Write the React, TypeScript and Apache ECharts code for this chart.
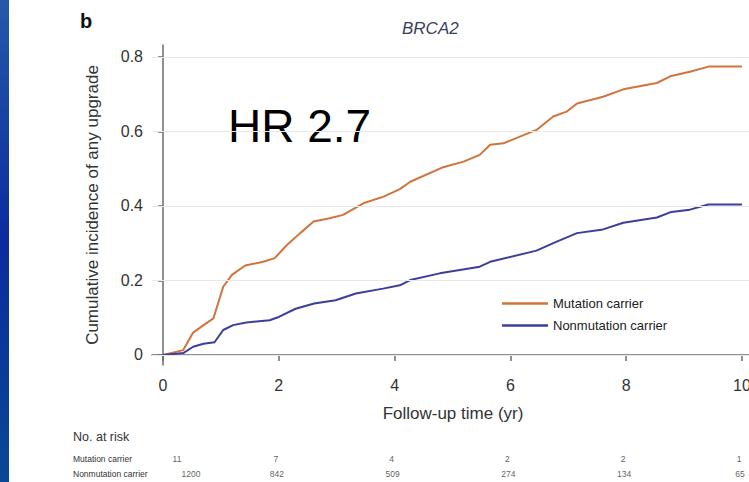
import React, { useEffect, useRef } from "react";
import * as echarts from "echarts";

const seriesNames = ["Mutation carrier", "Nonmutation carrier"];

const mutationTime = [0, 0.35, 0.52, 0.7, 0.87, 1.04, 1.19, 1.42, 1.73, 1.93, 2.14, 2.37, 2.6, 2.88, 3.11, 3.46, 3.81, 4.09, 4.27, 4.84, 5.19, 5.47, 5.65, 5.88, 6.45, 6.74, 6.97, 7.15, 7.6, 7.95, 8.53, 8.76, 9.1, 9.42, 10];
const mutationValue = [0, 0.013, 0.06, 0.08, 0.098, 0.183, 0.215, 0.24, 0.25, 0.26, 0.295, 0.327, 0.358, 0.367, 0.376, 0.407, 0.425, 0.445, 0.465, 0.504, 0.519, 0.537, 0.564, 0.568, 0.604, 0.64, 0.653, 0.675, 0.693, 0.713, 0.73, 0.748, 0.76, 0.774, 0.774];

const nonmutationTime = [0, 0.35, 0.52, 0.7, 0.89, 1.04, 1.21, 1.44, 1.84, 2.0, 2.29, 2.61, 2.98, 3.33, 3.8, 4.09, 4.27, 4.78, 5.47, 5.65, 6.45, 6.8, 7.15, 7.6, 7.95, 8.53, 8.78, 9.1, 9.42, 10];
const nonmutationValue = [0, 0.005, 0.022, 0.03, 0.034, 0.067, 0.08, 0.087, 0.093, 0.102, 0.124, 0.138, 0.147, 0.165, 0.178, 0.187, 0.201, 0.219, 0.237, 0.25, 0.28, 0.304, 0.327, 0.337, 0.355, 0.369, 0.384, 0.39, 0.404, 0.404];

const xTicks = [0, 2, 4, 6, 8, 10];
const yTicks = [0, 0.2, 0.4, 0.6, 0.8];

const riskTimes = [0, 2, 4, 6, 8, 10];
const riskMutation = [11, 7, 4, 2, 2, 1];
const riskNonmutation = [1200, 842, 509, 274, 134, 65];

const FONT = "'Liberation Sans', Arial, Helvetica, sans-serif";

export default function App() {
  const ref = useRef<HTMLDivElement>(null);
  useEffect(() => {
    document.body.style.margin = "0";
    const chart = echarts.init(ref.current!, null, { renderer: "svg" });
    const xMin = -0.19;
    const xMax = 10.207;
    const riskData: any[] = [];
    riskTimes.forEach((t, i) => {
      riskData.push({
        value: [t, "Mutation carrier", riskMutation[i]],
        label: { offset: [i === 0 ? 14 : -3, 0] },
      });
      riskData.push({
        value: [t, "Nonmutation carrier", riskNonmutation[i]],
        label: { offset: [i === 0 ? 28 : -2, 0] },
      });
    });
    chart.setOption({
      animation: false,
      backgroundColor: "#ffffff",
      textStyle: { fontFamily: FONT },
      title: {
        text: "BRCA2",
        left: 397,
        top: 15,
        textStyle: { fontSize: 17, fontStyle: "italic", fontWeight: "normal", color: "#3b3e5e", fontFamily: FONT },
      },
      legend: {
        orient: "vertical",
        left: 497,
        top: 292,
        icon: "rect",
        itemWidth: 46,
        itemHeight: 2.5,
        itemGap: 9,
        data: seriesNames,
        textStyle: { fontSize: 13, color: "#222", fontFamily: FONT },
      },
      grid: [
        { left: 152, top: 45, width: 602, height: 320, outerBoundsMode: "none" },
        { left: 152, top: 451, width: 602, height: 31, outerBoundsMode: "none" },
      ],
      xAxis: [
        {
          type: "value",
          gridIndex: 0,
          min: xMin,
          max: xMax,
          name: "Follow-up time (yr)",
          nameLocation: "middle",
          nameGap: 40,
          nameTextStyle: { fontSize: 17, color: "#333", fontFamily: FONT },
          axisLine: { show: true, lineStyle: { color: "#6b6b6b", width: 1.5 } },
          axisTick: { show: true, length: 6, customValues: xTicks, lineStyle: { color: "#6b6b6b", width: 1.5 } },
          axisLabel: { customValues: xTicks, fontSize: 16, color: "#333", margin: 12, fontFamily: FONT },
          splitLine: { show: false },
        },
        {
          type: "value",
          gridIndex: 1,
          min: xMin,
          max: xMax,
          show: false,
        },
      ],
      yAxis: [
        {
          type: "value",
          gridIndex: 0,
          min: -0.027,
          max: 0.832,
          name: "Cumulative incidence of any upgrade",
          nameLocation: "middle",
          nameGap: 51,
          nameTextStyle: { fontSize: 17, color: "#333", fontFamily: FONT },
          axisLine: { show: true, lineStyle: { color: "#6b6b6b", width: 1.5 } },
          axisTick: { show: true, length: 5, customValues: yTicks, lineStyle: { color: "#6b6b6b", width: 1.5 } },
          axisLabel: {
            customValues: yTicks,
            fontSize: 16,
            color: "#333",
            margin: 9,
            fontFamily: FONT,
            formatter: (v: number) => (v === 0 ? "0" : v.toFixed(1)),
          },
          splitLine: { show: false },
        },
        {
          type: "category",
          gridIndex: 1,
          data: ["Nonmutation carrier", "Mutation carrier"],
          axisLine: { show: false },
          axisTick: { show: false },
          axisLabel: { show: true, align: "left", margin: 79, fontSize: 8.5, color: "#333", fontFamily: FONT },
        },
      ],
      graphic: [
        {
          type: "rect",
          left: 0,
          top: 0,
          shape: { width: 9, height: 482 },
          style: {
            fill: new echarts.graphic.LinearGradient(0, 0, 0, 1, [
              { offset: 0, color: "#2558aa" },
              { offset: 0.5, color: "#0a2c9e" },
              { offset: 1, color: "#0a4896" },
            ]),
          },
        },
        {
          type: "text",
          left: 80,
          top: 11,
          style: { text: "b", font: `bold 20px ${FONT}`, fill: "#111" },
        },
        {
          type: "text",
          left: 228,
          top: 103,
          style: { text: "HR 2.7", font: `46px ${FONT}`, fill: "#000" },
        },
        {
          type: "text",
          left: 73,
          top: 430,
          style: { text: "No. at risk", font: `12.5px ${FONT}`, fill: "#333" },
        },
      ],
      series: [
        {
          type: "line",
          name: "grid",
          xAxisIndex: 0,
          yAxisIndex: 0,
          data: [],
          silent: true,
          z: 1,
          markLine: {
            silent: true,
            symbol: "none",
            label: { show: false },
            lineStyle: { color: "#e8e8e8", width: 1, type: "solid" },
            data: yTicks.map((v) => ({ yAxis: v })),
          },
        },
        {
          type: "line",
          name: seriesNames[0],
          xAxisIndex: 0,
          yAxisIndex: 0,
          z: 3,
          symbol: "none",
          showSymbol: false,
          color: "#d0743c",
          lineStyle: { color: "#d0743c", width: 2 },
          data: mutationTime.map((t, i) => [t, mutationValue[i]]),
        },
        {
          type: "line",
          name: seriesNames[1],
          xAxisIndex: 0,
          yAxisIndex: 0,
          z: 3,
          symbol: "none",
          showSymbol: false,
          color: "#3b3f9c",
          lineStyle: { color: "#3b3f9c", width: 2 },
          data: nonmutationTime.map((t, i) => [t, nonmutationValue[i]]),
        },
        {
          type: "scatter",
          name: "risk",
          xAxisIndex: 1,
          yAxisIndex: 1,
          symbolSize: 0,
          silent: true,
          data: riskData,
          label: {
            show: true,
            position: "inside",
            fontSize: 8.5,
            color: "#333",
            fontFamily: FONT,
            formatter: (p: any) => String(p.value[2]),
          },
        },
      ],
    });
    return () => chart.dispose();
  }, []);
  return (
    <div
      ref={ref}
      style={{ position: "fixed", left: 0, top: 0, width: 749, height: 482 }}
    />
  );
}
